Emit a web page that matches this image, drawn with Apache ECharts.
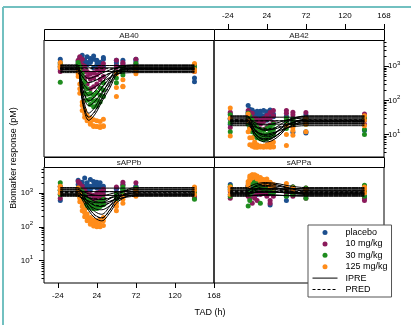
<!DOCTYPE html>
<html><head><meta charset="utf-8">
<script src="https://cdn.jsdelivr.net/npm/echarts@6/dist/echarts.min.js"></script>
<style>html,body{margin:0;padding:0;background:#fff}#c{width:411px;height:325px}</style>
</head><body><div id="c"></div>
<script>
// ---------------- data ----------------
const panels = ['AB40', 'AB42', 'sAPPb', 'sAPPa'];
const doses = ['placebo', '10 mg/kg', '30 mg/kg', '125 mg/kg'];
const subjectDose = [0, 0, 0, 1, 1, 1, 2, 2, 2, 3, 3, 3];
const obsTimes = [-21, 1, 3, 6, 9, 12, 16, 20, 24, 28, 32, 48, 56, 72, 144];
const predTimes = [-21, 0, 4, 8, 14, 22, 30, 40, 50, 72, 144];
const xTickValues = [-24, 24, 72, 120, 168];
const yMinorTickValues = [3, 4, 5, 6, 7, 8, 9, 20, 30, 40, 50, 60, 70, 80, 90, 200, 300, 400, 500, 600, 700, 800, 900, 2000, 3000, 4000, 5000];
const xAxisTitle = 'TAD (h)';
const yAxisTitle = 'Biomarker response (pM)';

const ab40Obs = [
  [1300,1100,1500,1700,1200,1900,1400,1600,1100,1300,1800,1500,1200,1600,450],
  [800,900,1200,1000,1400,1100,1300,900,1500,1200,1000,1100,900,1000,350],
  [1600,1400,1800,2100,1500,1300,1700,2000,1400,1200,1600,1300,1500,1400,1100],
  [900,1200,1500,1100,700,500,420,450,560,700,850,1000,1300,1600,900],
  [1100,1500,1900,1600,1000,700,600,650,800,950,1200,1500,1100,1200,1000],
  [700,900,1200,800,450,300,220,250,300,400,500,700,800,900,700],
  [1000,1100,800,450,250,150,110,95,100,140,200,450,700,900,900],
  [1200,1300,1000,600,350,220,160,140,170,230,320,650,900,1200,1100],
  [340,900,600,300,160,100,75,65,70,90,130,330,550,750,800],
  [900,500,160,50,32,25,20,18,17,17,18,130,250,600,800],
  [1000,600,220,70,40,30,22,17,17,16,17,240,400,800,700],
  [1300,800,300,90,50,36,30,27,25,24,28,600,260,900,1200]
];
const ab40Ipre = [
  [900,900,900,900,900,900,900,900,900,900,900],
  [700,700,700,700,700,700,700,700,700,700,700],
  [1050,1050,1050,1050,1050,1050,1050,1050,1050,1050,1050],
  [800,800,600,430,330,380,480,620,740,800,800],
  [950,950,720,540,440,500,620,780,900,950,950],
  [650,650,440,290,210,250,340,470,600,650,650],
  [850,850,380,160,95,130,230,450,750,850,850],
  [1000,1000,480,220,140,190,330,600,920,1000,1000],
  [720,720,300,120,70,95,170,340,620,720,720],
  [780,780,200,55,26,40,90,230,600,780,780],
  [900,900,240,70,32,50,115,300,720,900,900],
  [1100,1100,320,95,42,65,150,400,950,1100,1100]
];
const ab40Pred = [
  [850,850,850,850,850,850,850,850,850,850,850],
  [820,820,610,440,340,390,490,630,750,820,820],
  [860,860,390,170,100,135,240,460,760,860,860],
  [870,870,230,65,32,48,105,280,680,870,870]
];

const ab42Obs = [
  [28,45,38,52,30,40,48,35,42,30,36,26,11.5,12,13],
  [20,70,32,28,45,36,30,50,26,38,33,22,24,11,26],
  [40,38,55,42,35,48,40,32,46,52,40,34,30,38,30],
  [30,35,44,30,25,22,20,24,28,30,35,50,45,44,40],
  [45,50,38,42,30,28,26,30,36,44,50,42,38,30,28],
  [16,28,24,20,17,15,13,14,16,19,22,25,20,22,20],
  [22,30,25,18,14,11,10,9.5,10,12,14,24,22,26,10],
  [38,42,34,26,20,16,14,13,15,17,20,30,28,30,32],
  [12,20,16,12,9,8,7.5,7,7.5,8.5,10,15,18,20,14],
  [9,12,5,4.5,4.2,4.2,4.3,4.2,4.4,4.2,4.3,4.7,16,12,18],
  [30,25,8,5,4.5,4.3,4.4,4.5,4.3,4.5,4.4,10,13,20,26],
  [60,40,15,8,6,5,4.6,4.5,5,5.5,6,18,9.5,30,35]
];
const ab42Ipre = [
  [25,25,25,25,25,25,25,25,25,25,25],
  [20,20,20,20,20,20,20,20,20,20,20],
  [32,32,32,32,32,32,32,32,32,32,32],
  [22,22,20,17,15,14,14,16,19,22,22],
  [30,30,27,23,20,19,20,23,27,30,30],
  [18,18,16,13,11,10,11,13,16,18,18],
  [26,26,21,15,11,9.5,10,14,20,26,26],
  [34,34,28,20,15,13,14,19,27,34,34],
  [21,21,17,12,8.5,7.5,8,11,16,21,21],
  [24,24,17,10,7,6,6.5,9.5,16,24,24],
  [28,28,20,12,8,6.8,7.5,11,19,28,28],
  [35,35,26,15,10,8.5,9,14,24,35,35]
];
const ab42Pred = [
  [25,25,25,25,25,25,25,25,25,25,25],
  [24,24,21,18,16,15,15,17,21,24,24],
  [26,26,21,15,11,9.5,10,14,20,26,26],
  [27,27,19,11.5,8,7,7.5,11,18,27,27]
];

const sappbObs = [
  [1200,2400,1900,1700,2800,2000,1600,2200,1800,1500,1300,1300,1200,1100,1000],
  [600,1800,1500,2100,1600,1300,2500,1700,1400,2000,1600,1000,1800,1600,900],
  [1600,1300,2000,1500,1200,1700,1300,1500,2100,1200,1100,1400,1300,1500,1400],
  [900,1300,1700,1200,900,750,600,650,700,800,900,1000,1700,2000,700],
  [1500,2200,1900,1600,1200,1000,900,850,1000,1100,1300,1500,2100,1400,1200],
  [700,1000,900,800,650,550,500,480,520,600,700,900,1100,1000,800],
  [2000,1100,1000,850,650,500,420,380,380,420,500,750,1500,1100,1000],
  [1200,1400,1300,1100,850,650,550,500,520,580,650,950,1300,1400,1200],
  [900,900,800,650,480,380,360,340,350,400,450,650,900,1000,650],
  [1000,900,550,300,200,150,120,105,100,100,110,300,500,800,900],
  [1300,1100,700,400,260,190,150,130,115,120,150,400,650,1000,1200],
  [1600,1400,900,520,320,240,190,160,150,160,190,500,800,1200,1500]
];
const sappbIpre = [
  [1100,1100,1100,1100,1100,1100,1100,1100,1100,1100,1100],
  [850,850,850,850,850,850,850,850,850,850,850],
  [1400,1400,1400,1400,1400,1400,1400,1400,1400,1400,1400],
  [950,950,900,820,720,650,640,700,820,950,950],
  [1250,1250,1180,1080,950,860,840,930,1080,1250,1250],
  [800,800,750,670,580,520,510,570,680,800,800],
  [1000,1000,900,730,540,420,400,520,750,1000,1000],
  [1300,1300,1180,960,720,560,530,680,980,1300,1300],
  [880,880,780,620,450,340,320,420,640,880,880],
  [900,900,760,520,300,180,150,260,560,900,900],
  [1150,1150,960,650,370,220,185,320,700,1150,1150],
  [1450,1450,1220,830,470,280,235,410,880,1450,1450]
];
const sappbPred = [
  [1100,1100,1100,1100,1100,1100,1100,1100,1100,1100,1100],
  [1000,1000,940,850,750,680,670,730,860,1000,1000],
  [1050,1050,950,770,570,440,420,550,790,1050,1050],
  [1100,1100,930,630,360,215,180,310,680,1100,1100]
];

const sappaObs = [
  [1400,1200,1600,1000,800,1300,1500,1100,900,440,1200,600,900,1100,1200],
  [900,1700,1100,1400,1200,900,1000,1300,1600,1000,1100,800,1300,1000,800],
  [1800,1500,1900,1600,2000,1700,1400,1800,1500,1300,1600,1200,1500,1300,1600],
  [1100,900,700,500,800,1000,1200,1400,1100,600,1300,1000,1200,900,700],
  [1500,1600,1900,2100,1800,1500,1700,1300,1500,1800,1400,1300,1500,1400,1300],
  [700,800,900,1100,700,600,900,1000,800,500,800,900,800,700,600],
  [1300,410,900,1200,1500,1700,1400,1300,1600,1200,1100,1200,1000,900,1100],
  [1600,1500,1800,2000,2200,1900,1700,2000,1800,1500,1400,1300,1500,1400,1700],
  [800,1000,600,1100,1300,1400,500,1200,1300,1100,1000,800,900,700,800],
  [1200,1600,2400,2800,3000,2600,2200,2000,1800,1600,1400,1300,1100,1000,1000],
  [900,1900,2800,3400,3500,3200,2900,2500,2200,2000,1800,1500,1300,1200,1300],
  [1500,2200,3200,3500,3300,3000,2700,2400,2600,2100,1700,1900,1400,1300,1500]
];
const sappaIpre = [
  [1050,1050,1050,1050,1050,1050,1050,1050,1050,1050,1050],
  [850,850,850,850,850,850,850,850,850,850,850],
  [1350,1350,1350,1350,1350,1350,1350,1350,1350,1350,1350],
  [950,950,980,1020,1060,1080,1070,1040,1000,950,950],
  [1200,1200,1240,1290,1340,1360,1350,1310,1260,1200,1200],
  [800,800,820,850,880,900,890,860,830,800,800],
  [1000,1000,1060,1150,1250,1300,1280,1200,1100,1000,1000],
  [1300,1300,1380,1500,1620,1680,1650,1550,1420,1300,1300],
  [900,900,950,1030,1110,1150,1130,1070,990,900,900],
  [950,950,1080,1250,1450,1550,1520,1380,1180,950,950],
  [1150,1150,1320,1540,1780,1900,1860,1680,1440,1150,1150],
  [1450,1450,1620,1800,1950,2050,2000,1850,1650,1450,1450]
];
const sappaPred = [
  [1100,1100,1100,1100,1100,1100,1100,1100,1100,1100,1100],
  [1000,1000,1030,1070,1110,1130,1120,1090,1050,1000,1000],
  [1050,1050,1110,1210,1310,1370,1340,1260,1160,1050,1050],
  [1150,1150,1310,1520,1740,1850,1810,1640,1400,1150,1150]
];

// ---------------- styling / layout ----------------
const doseColors = ['#1c4f8e', '#8b1a5b', '#1e8c1e', '#ff8c1a'];
const FONT = 'Liberation Sans, Arial, sans-serif';
const X_MIN = -41, X_MAX = 168, Y_MIN = 2.17, Y_MAX = 5900;
const gridBoxes = [
  {left: 44, top: 40, width: 170, height: 117},
  {left: 214, top: 40, width: 170, height: 117},
  {left: 44, top: 167, width: 170, height: 116},
  {left: 214, top: 167, width: 170, height: 116}
];
const strips = [
  {x: 44, y: 29, w: 170, h: 11},
  {x: 214, y: 29, w: 170, h: 11},
  {x: 44, y: 157, w: 170, h: 10},
  {x: 214, y: 157, w: 170, h: 10}
];

const obsTable = [ab40Obs, ab42Obs, sappbObs, sappaObs];
const ipreTable = [ab40Ipre, ab42Ipre, sappbIpre, sappaIpre];
const predTable = [ab40Pred, ab42Pred, sappbPred, sappaPred];

function powLabel(v) {
  const e = Math.log10(v), r = Math.round(e);
  if (Math.abs(e - r) > 1e-6) return '';
  return '{b|10}{s|' + r + '}';
}
const yRich = {
  b: {fontSize: 8, fontFamily: FONT, color: '#000', lineHeight: 10},
  s: {fontSize: 6, fontFamily: FONT, color: '#000', lineHeight: 6, padding: [0, 0, 6, 0]}
};

const grids = gridBoxes.map(g => Object.assign({show: true, borderColor: '#000', borderWidth: 1, backgroundColor: 'transparent'}, g));

const xAxes = gridBoxes.map((g, i) => {
  const shown = (i === 1 || i === 2);
  return {
    type: 'value', gridIndex: i, min: X_MIN, max: X_MAX, show: shown,
    position: i === 1 ? 'top' : 'bottom',
    offset: i === 1 ? 11 : 0,
    splitLine: {show: false},
    axisLine: {show: false, onZero: false},
    axisTick: {show: true, length: 5, customValues: xTickValues, lineStyle: {color: '#000'}},
    axisLabel: {show: true, customValues: xTickValues, fontSize: 8, fontFamily: FONT, color: '#000', margin: 9}
  };
});

const yAxes = gridBoxes.map((g, i) => {
  const shown = (i === 1 || i === 2);
  return {
    type: 'log', logBase: 10, gridIndex: i, min: Y_MIN, max: Y_MAX, show: shown,
    position: i === 1 ? 'right' : 'left',
    splitLine: {show: false},
    axisLine: {show: false, onZero: false},
    axisTick: {show: true, length: 5, lineStyle: {color: '#000'}},
    axisLabel: {show: true, formatter: powLabel, rich: yRich, margin: i === 1 ? 4 : 11, showMinLabel: false, showMaxLabel: false}
  };
});
// helper axes (log10 space) that only draw the minor ticks of the log scale
[1, 2].forEach(i => {
  yAxes.push({
    type: 'value', gridIndex: i, min: Math.log10(Y_MIN), max: Math.log10(Y_MAX),
    position: i === 1 ? 'right' : 'left',
    splitLine: {show: false}, axisLine: {show: false, onZero: false},
    axisTick: {show: true, length: 2.5, customValues: yMinorTickValues.map(v => Math.log10(v)), lineStyle: {color: '#000'}},
    axisLabel: {show: false}
  });
});

const series = [];
for (let p = 0; p < panels.length; p++) {
  const obs = obsTable[p];
  for (let d = 0; d < doses.length; d++) {
    const data = [];
    subjectDose.forEach((sd, s) => {
      if (sd !== d) return;
      obsTimes.forEach((t, k) => data.push([t, obs[s][k]]));
    });
    series.push({
      type: 'scatter', name: doses[d], xAxisIndex: p, yAxisIndex: p, data: data,
      symbol: 'circle', symbolSize: 5, itemStyle: {color: doseColors[d], opacity: 1}, z: 2, silent: true
    });
  }
  ipreTable[p].forEach(row => {
    series.push({
      type: 'line', name: 'IPRE', xAxisIndex: p, yAxisIndex: p,
      data: predTimes.map((t, k) => [t, row[k]]),
      showSymbol: false, symbol: 'none', smooth: 0.35, color: '#000',
      lineStyle: {color: '#000', width: 1}, z: 3, silent: true
    });
  });
  predTable[p].forEach(row => {
    series.push({
      type: 'line', name: 'PRED', xAxisIndex: p, yAxisIndex: p,
      data: predTimes.map((t, k) => [t, row[k]]),
      showSymbol: false, symbol: 'none', smooth: 0.35, color: '#000',
      lineStyle: {color: '#000', width: 1, type: [3, 2]}, z: 4, silent: true
    });
  });
}

const graphics = [
  {type: 'line', shape: {x1: 3, y1: 7, x2: 411, y2: 7}, style: {stroke: '#72c0c0', lineWidth: 2}, silent: true},
  {type: 'line', shape: {x1: 3, y1: 7, x2: 3, y2: 325}, style: {stroke: '#72c0c0', lineWidth: 2}, silent: true},
  {type: 'text', x: 14, y: 158, rotation: Math.PI / 2, style: {text: yAxisTitle, fontSize: 9, fontFamily: FONT, fill: '#000', align: 'center', verticalAlign: 'middle'}, silent: true},
  {type: 'text', x: 210, y: 313, style: {text: xAxisTitle, fontSize: 9, fontFamily: FONT, fill: '#000', align: 'center', verticalAlign: 'middle'}, silent: true}
];
strips.forEach((s, i) => {
  graphics.push({type: 'rect', shape: {x: s.x + 0.5, y: s.y + 0.5, width: s.w, height: s.h}, style: {fill: '#fff', stroke: '#000', lineWidth: 1}, silent: true});
  graphics.push({type: 'text', x: s.x + s.w / 2, y: s.y + s.h / 2 + 1, style: {text: panels[i], fontSize: 8, fontFamily: FONT, fill: '#222', align: 'center', verticalAlign: 'middle'}, silent: true});
});

const lineLegendItem = (name) => ({name: name, itemStyle: {color: 'rgba(0,0,0,0)', borderWidth: 0, opacity: 0}, lineStyle: {width: 1}});

const chart = echarts.init(document.getElementById('c'), null, {renderer: 'canvas'});
chart.setOption({
  animation: false,
  backgroundColor: '#fff',
  grid: grids,
  xAxis: xAxes,
  yAxis: yAxes,
  legend: {
    data: doses.map(n => ({name: n, icon: 'circle'})).concat([lineLegendItem('IPRE'), lineLegendItem('PRED')]),
    orient: 'vertical', left: 308, top: 225,
    itemWidth: 25, itemHeight: 5, itemGap: 2.4,
    backgroundColor: '#fff', borderColor: '#555', borderWidth: 1, borderRadius: 0,
    padding: [3, 4, 3, 4], selectedMode: false, z: 10,
    textStyle: {fontSize: 9, fontFamily: FONT, color: '#000', padding: [0, 0, 0, 3]}
  },
  graphic: graphics,
  series: series
});
</script></body></html>
